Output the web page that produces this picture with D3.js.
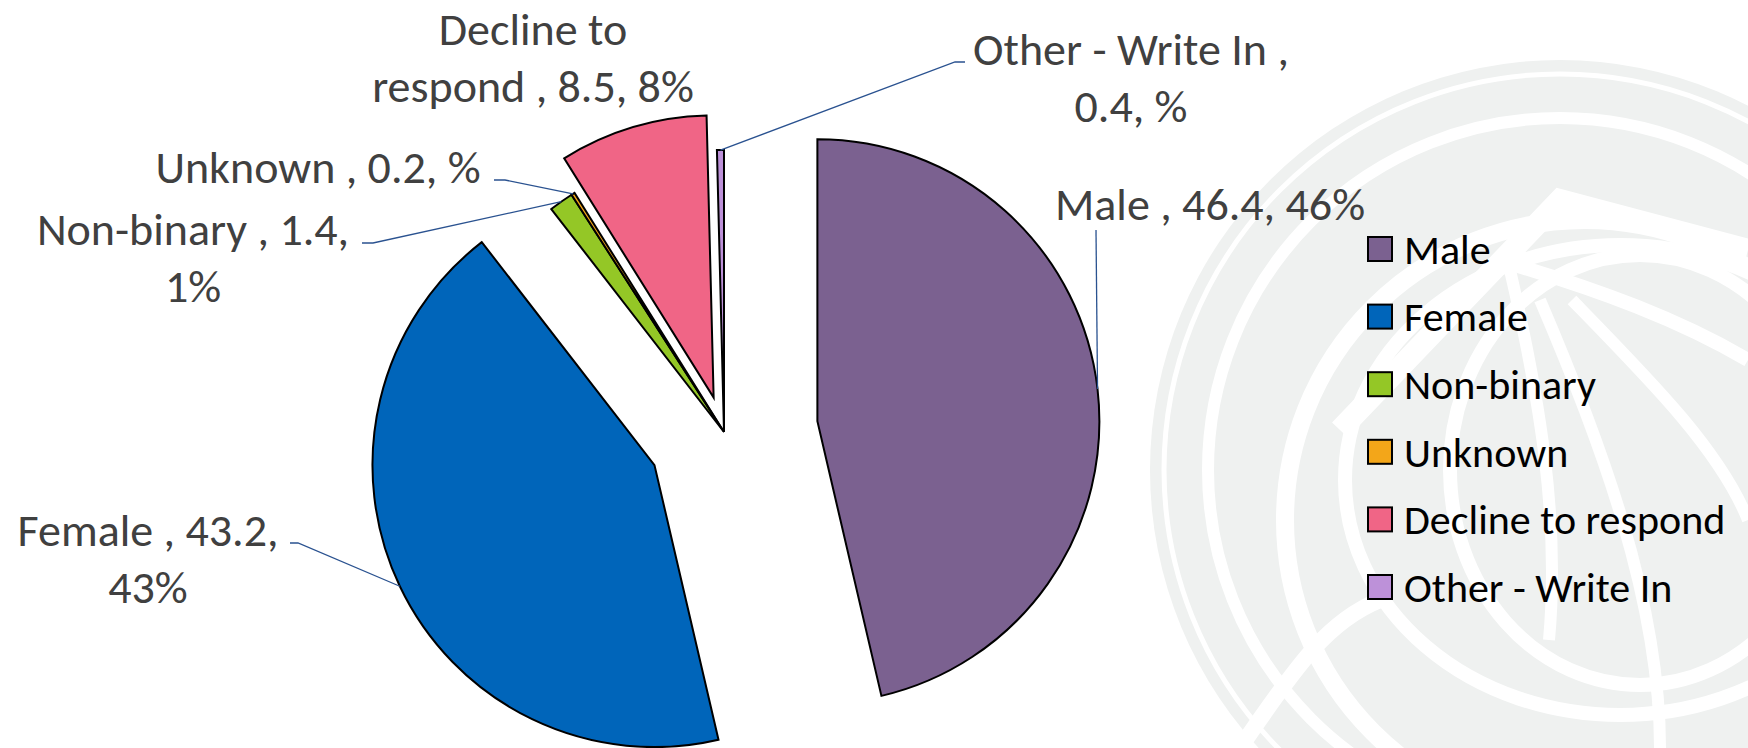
<!DOCTYPE html>
<html>
<head>
<meta charset="utf-8">
<script src="https://cdn.jsdelivr.net/npm/d3@7"></script>
<style>
  html, body { margin: 0; padding: 0; background: #ffffff; }
  svg { display: block; }
  text { font-family: Carlito, Calibri, Lato, "Open Sans", sans-serif; }
</style>
</head>
<body>
<svg id="chart" width="1748" height="748"></svg>
<script>
// ---------------- data ----------------
const categories = ["Male", "Female", "Non-binary", "Unknown", "Decline to respond", "Other - Write In"];
const values = [46.4, 43.2, 1.4, 0.2, 8.5, 0.4];
const colors = ["#7b6190", "#0065ba", "#94c726", "#f3a619", "#f06586", "#bd91d9"];

// ---------------- layout / style ----------------
const W = 1748, H = 748;
const center = [724, 432];
const radius = 282;
const explode = [94, 77, 0, 0, 36, 0];           // explosion distance per slice (px)
// label boxes: centre x, first baseline, line break, leader elbow points
const labelLayout = [
  { cx: 1210, y: 220, breakAfter: null, leader: [[1096, 230]] },
  { cx: 148,  y: 546, breakAfter: "43.2,", leader: [[298, 543], [290, 543]] },
  { cx: 193,  y: 245, breakAfter: "1.4,", leader: [[373, 243], [362, 243]] },
  { cx: 318,  y: 183, breakAfter: null, leader: [[505, 180], [494, 180]] },
  { cx: 533,  y: 45,  breakAfter: "to", leader: null },
  { cx: 1131, y: 65,  breakAfter: "In ,", leader: [[955, 62], [965, 62]] }
];
const lineHeight = 57;
const labelFont = 46;
const legendFont = 42;

const svg = d3.select("#chart");

// ---------------- watermark (faint background logo) ----------------
const wm = svg.append("g");
const wmFill = "#eff1f0";
wm.append("circle").attr("cx", 1560).attr("cy", 470).attr("r", 410).attr("fill", wmFill);
const white = (sel, w) => sel.attr("fill", "none").attr("stroke", "#ffffff").attr("stroke-width", w);
white(wm.append("circle").attr("cx", 1560).attr("cy", 470).attr("r", 396), 5);
white(wm.append("circle").attr("cx", 1560).attr("cy", 470).attr("r", 352), 12);
white(wm.append("ellipse").attr("cx", 1585).attr("cy", 520).attr("rx", 300).attr("ry", 300), 18);
white(wm.append("ellipse").attr("cx", 1620).attr("cy", 480).attr("rx", 275).attr("ry", 235), 14);
white(wm.append("ellipse").attr("cx", 1640).attr("cy", 470).attr("rx", 190).attr("ry", 215), 14);
// fan / chevron strokes of the logo
white(wm.append("path").attr("d", "M1340,430 L1560,200 L1748,250"), 22);
white(wm.append("path").attr("d", "M1505,262 C1600,290 1680,320 1748,360"), 14);
white(wm.append("path").attr("d", "M1510,270 C1540,400 1560,520 1549,640"), 12);
white(wm.append("path").attr("d", "M1540,300 C1600,440 1660,600 1660,748"), 12);
white(wm.append("path").attr("d", "M1572,300 C1650,380 1720,450 1748,520"), 12);
white(wm.append("path").attr("d", "M1240,748 C1300,660 1330,620 1380,600"), 16);

// ---------------- pie ----------------
const total = d3.sum(values);
const pie = d3.pie().sort(null).value(d => d).startAngle(0).endAngle(2 * Math.PI);
const arcs = pie(values);
const arcGen = d3.arc().innerRadius(0).outerRadius(radius);

const pctFmt = v => {
  const p = Math.round(v / total * 100);
  return (p === 0 ? "" : p) + "%";
};

function sliceOrigin(a, i) {
  const mid = (a.startAngle + a.endAngle) / 2;
  return [center[0] + explode[i] * Math.sin(mid), center[1] - explode[i] * Math.cos(mid)];
}

const g = svg.append("g");
arcs.forEach((a, i) => {
  const o = sliceOrigin(a, i);
  g.append("path")
    .attr("d", arcGen(a))
    .attr("transform", `translate(${o[0]},${o[1]})`)
    .attr("fill", colors[i])
    .attr("stroke", "#000000")
    .attr("stroke-width", 2)
    .attr("stroke-linejoin", "miter");
});

// ---------------- leader lines ----------------
const leaders = svg.append("g");
arcs.forEach((a, i) => {
  const L = labelLayout[i];
  if (!L.leader) return;
  const o = sliceOrigin(a, i);
  const mid = (a.startAngle + a.endAngle) / 2;
  const start = [o[0] + radius * Math.sin(mid), o[1] - radius * Math.cos(mid)];
  const pts = [start].concat(L.leader);
  leaders.append("path")
    .attr("d", d3.line()(pts))
    .attr("fill", "none")
    .attr("stroke", "#2a5290")
    .attr("stroke-width", 1.3);
});

// ---------------- data labels ----------------
const labels = svg.append("g").attr("fill", "#404040").attr("font-size", labelFont);
arcs.forEach((a, i) => {
  const L = labelLayout[i];
  const full = `${categories[i]} , ${values[i]}, ${pctFmt(values[i])}`;
  let lines = [full];
  if (L.breakAfter) {
    const k = full.indexOf(L.breakAfter) + L.breakAfter.length;
    lines = [full.slice(0, k), full.slice(k).trim()];
  }
  lines.forEach((t, j) => {
    labels.append("text")
      .attr("x", L.cx)
      .attr("y", L.y + j * lineHeight)
      .attr("text-anchor", "middle")
      .text(t);
  });
});

// ---------------- legend ----------------
const legendX = 1368, legendY0 = 249, legendStep = 67.6, sw = 24;
const legend = svg.append("g");
categories.forEach((c, i) => {
  const y = legendY0 + i * legendStep;
  legend.append("rect")
    .attr("x", legendX).attr("y", y - sw / 2)
    .attr("width", sw).attr("height", sw)
    .attr("fill", colors[i]).attr("stroke", "#000").attr("stroke-width", 2);
  legend.append("text")
    .attr("x", legendX + 36).attr("y", y)
    .attr("dy", "0.35em")
    .attr("font-size", legendFont)
    .attr("fill", "#000")
    .text(c);
});
</script>
</body>
</html>
